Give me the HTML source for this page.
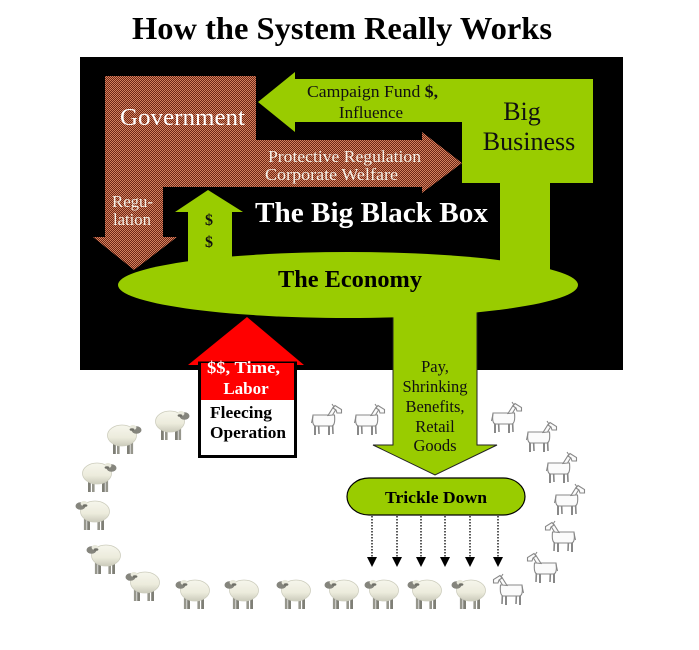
<!DOCTYPE html>
<html>
<head>
<meta charset="utf-8">
<style>
  html,body{margin:0;padding:0;background:#fff;}
  svg{display:block;}
  text{font-family:"Liberation Serif","DejaVu Serif",serif;}
</style>
</head>
<body>
<svg width="699" height="650" viewBox="0 0 699 650" xmlns="http://www.w3.org/2000/svg">
  <defs>
    <pattern id="br" width="2" height="2" patternUnits="userSpaceOnUse">
      <rect width="2" height="2" fill="#6e2616"/>
      <rect width="1" height="1" fill="#d4825e"/>
      <rect x="1" y="1" width="1" height="1" fill="#d4825e"/>
    </pattern>
    <linearGradient id="wool" x1="0" y1="0" x2="0" y2="1">
      <stop offset="0" stop-color="#f6f6ec"/>
      <stop offset="0.6" stop-color="#ecebdc"/>
      <stop offset="1" stop-color="#cbcbbb"/>
    </linearGradient>
    <g id="sheep">
      <rect x="6" y="18" width="2.8" height="14" fill="#7f7f76"/>
      <rect x="10" y="19" width="2.6" height="13" fill="#96968c"/>
      <rect x="20" y="19" width="2.8" height="13" fill="#7f7f76"/>
      <rect x="23.5" y="18" width="2.6" height="14" fill="#96968c"/>
      <ellipse cx="15" cy="13.5" rx="14.5" ry="10.5" fill="url(#wool)" stroke="#cdcdbd" stroke-width="0.8"/>
      <ellipse cx="29.5" cy="8" rx="5" ry="3.8" fill="#85857d"/>
      <ellipse cx="26" cy="5.5" rx="3.4" ry="2.6" fill="#e9e9dc"/>
      <ellipse cx="25" cy="7.5" rx="2.4" ry="1.3" fill="#707068"/>
    </g>
    <g id="goat" fill="#fbfbfb" stroke="#888" stroke-width="1.1">
      <line x1="5" y1="17" x2="5" y2="30" stroke-width="2"/>
      <line x1="8.5" y1="17" x2="9" y2="29" stroke-width="1.6"/>
      <line x1="19" y1="17" x2="19" y2="30" stroke-width="2"/>
      <line x1="22.5" y1="17" x2="23" y2="29" stroke-width="1.6"/>
      <path d="M3 10 Q1.5 21 6 21 L22 21 Q25.5 20 24.5 10 Z"/>
      <path d="M18 10.5 L22.5 10 L26.5 3.5 L23 2.5 Z"/>
      <path d="M23 3 L25 0.5 L31.5 4.5 L31.5 8 L27 8 L26 5 Z"/>
      <line x1="24" y1="2" x2="22" y2="-1"/>
      <line x1="3" y1="11" x2="1.5" y2="18"/>
    </g>
  </defs>

  <!-- Title -->
  <text x="132" y="39" font-size="32" font-weight="bold" fill="#000" textLength="420" lengthAdjust="spacingAndGlyphs">How the System Really Works</text>

  <!-- Black box -->
  <rect x="80" y="57" width="543" height="313" fill="#000"/>

  <!-- Brown government shape -->
  <polygon points="105,76 256,76 256,140 422,140 422,132 462,163 422,193 422,187 163,187 163,237 177,237 134,270 93,237 105,237" fill="url(#br)"/>

  <!-- Campaign arrow + Big Business -->
  <polygon points="258,102 295,72 295,79 593,79 593,183 550,183 550,290 500,290 500,183 462,183 462,122 295,122 295,132" fill="#99cc00"/>

  <!-- $$ up arrow -->
  <polygon points="208,190 243,212 232,212 232,270 188,270 188,212 175,212" fill="#99cc00"/>

  <!-- Pay arrow -->
  <polygon points="393,300 477,300 477,445 497,445 435,475 373,445 393,445" fill="#99cc00" stroke="#222" stroke-width="1"/>

  <!-- Economy ellipse -->
  <ellipse cx="348" cy="285" rx="230" ry="33" fill="#99cc00"/>

  <!-- Red arrow / Fleecing -->
  <polygon points="247,317 304,365 188,365" fill="#ff0000"/>
  <rect x="199.5" y="363" width="96" height="93.5" fill="#fff" stroke="#000" stroke-width="3"/>
  <rect x="201" y="363" width="93" height="37" fill="#ff0000"/>

  <!-- Trickle down pill -->
  <rect x="347" y="478" width="178" height="37" rx="22" ry="18.5" fill="#99cc00" stroke="#000" stroke-width="1.2"/>

  <!-- Dotted arrows -->
  <g stroke="#000" stroke-width="1.3" stroke-dasharray="1.5,1.5">
    <line x1="372" y1="516" x2="372" y2="558"/>
    <line x1="397" y1="516" x2="397" y2="558"/>
    <line x1="421" y1="516" x2="421" y2="558"/>
    <line x1="445" y1="516" x2="445" y2="558"/>
    <line x1="470" y1="516" x2="470" y2="558"/>
    <line x1="498" y1="516" x2="498" y2="558"/>
  </g>
  <g fill="#000">
    <polygon points="367,557 377,557 372,567"/>
    <polygon points="392,557 402,557 397,567"/>
    <polygon points="416,557 426,557 421,567"/>
    <polygon points="440,557 450,557 445,567"/>
    <polygon points="465,557 475,557 470,567"/>
    <polygon points="493,557 503,557 498,567"/>
  </g>

  <!-- Texts in box -->
  <text x="120" y="125" font-size="24" fill="#fff" textLength="125" lengthAdjust="spacingAndGlyphs">Government</text>
  <text x="307" y="97" font-size="17" fill="#111" textLength="131" lengthAdjust="spacingAndGlyphs">Campaign Fund <tspan font-weight="bold">$,</tspan></text>
  <text x="371" y="118" font-size="17" fill="#111" text-anchor="middle">Influence</text>
  <text x="522" y="120" font-size="26" fill="#111" text-anchor="middle">Big</text>
  <text x="529" y="150" font-size="26" fill="#111" text-anchor="middle">Business</text>
  <text x="268" y="162" font-size="17" fill="#f4efe6" textLength="153" lengthAdjust="spacingAndGlyphs">Protective Regulation</text>
  <text x="265" y="180" font-size="17" fill="#f4efe6" textLength="133" lengthAdjust="spacingAndGlyphs">Corporate Welfare</text>
  <text x="112" y="207" font-size="17" fill="#f4efe6" textLength="41" lengthAdjust="spacingAndGlyphs">Regu-</text>
  <text x="113" y="225" font-size="17" fill="#f4efe6" textLength="38" lengthAdjust="spacingAndGlyphs">lation</text>
  <text x="209" y="225" font-size="16" font-weight="bold" fill="#111" text-anchor="middle">$</text>
  <text x="209" y="247" font-size="16" font-weight="bold" fill="#111" text-anchor="middle">$</text>
  <text x="255" y="222" font-size="29" font-weight="bold" fill="#fff" textLength="233" lengthAdjust="spacingAndGlyphs">The Big Black Box</text>
  <text x="278" y="287" font-size="24" font-weight="bold" fill="#000" textLength="144" lengthAdjust="spacingAndGlyphs">The Economy</text>

  <!-- Red arrow text -->
  <text x="207" y="373" font-size="17" font-weight="bold" fill="#fff" textLength="73" lengthAdjust="spacingAndGlyphs">$$, Time,</text>
  <text x="246" y="394" font-size="17" font-weight="bold" fill="#fff" text-anchor="middle">Labor</text>
  <text x="210" y="418" font-size="17" font-weight="bold" fill="#000" textLength="62" lengthAdjust="spacingAndGlyphs">Fleecing</text>
  <text x="210" y="438" font-size="17" font-weight="bold" fill="#000" textLength="76" lengthAdjust="spacingAndGlyphs">Operation</text>

  <!-- Pay arrow text -->
  <g font-size="16.5" fill="#111" text-anchor="middle">
    <text x="435" y="372">Pay,</text>
    <text x="435" y="392">Shrinking</text>
    <text x="435" y="412">Benefits,</text>
    <text x="435" y="432">Retail</text>
    <text x="435" y="451">Goods</text>
  </g>

  <text x="385" y="503" font-size="17" font-weight="bold" fill="#000" textLength="102" lengthAdjust="spacingAndGlyphs">Trickle Down</text>

  <!-- Sheep (facing right) -->
  <use href="#sheep" transform="translate(155,408)"/>
  <use href="#sheep" transform="translate(107,422)"/>
  <use href="#sheep" transform="translate(82,460)"/>
  <!-- Sheep (facing left) -->
  <use href="#sheep" transform="translate(110,498) scale(-1,1)"/>
  <use href="#sheep" transform="translate(121,542) scale(-1,1)"/>
  <use href="#sheep" transform="translate(160,569) scale(-1,1)"/>
  <use href="#sheep" transform="translate(210,577) scale(-1,1)"/>
  <use href="#sheep" transform="translate(259,577) scale(-1,1)"/>
  <use href="#sheep" transform="translate(311,577) scale(-1,1)"/>
  <use href="#sheep" transform="translate(359,577) scale(-1,1)"/>
  <use href="#sheep" transform="translate(399,577) scale(-1,1)"/>
  <use href="#sheep" transform="translate(442,577) scale(-1,1)"/>
  <use href="#sheep" transform="translate(486,577) scale(-1,1)"/>

  <!-- Goats facing right -->
  <use href="#goat" transform="translate(310,405)"/>
  <use href="#goat" transform="translate(353,405)"/>
  <use href="#goat" transform="translate(490,403)"/>
  <use href="#goat" transform="translate(525,422)"/>
  <use href="#goat" transform="translate(545,453)"/>
  <use href="#goat" transform="translate(553,485)"/>
  <!-- Goats facing left -->
  <use href="#goat" transform="translate(577,522) scale(-1,1)"/>
  <use href="#goat" transform="translate(559,553) scale(-1,1)"/>
  <use href="#goat" transform="translate(525,575) scale(-1,1)"/>
</svg>
</body>
</html>
